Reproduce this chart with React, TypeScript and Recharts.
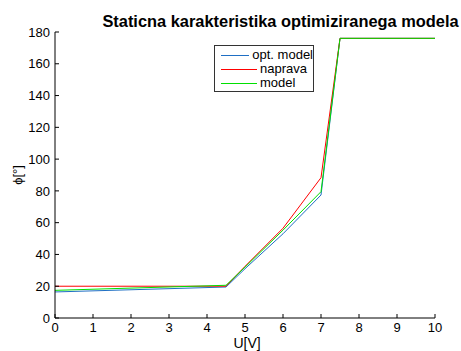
import React from 'react';
import { LineChart, Line, XAxis, YAxis, Legend } from 'recharts';

const uValues = [0, 4.5, 5, 6, 7, 7.5, 10];
const optModel = [16.4, 19.5, 31, 53, 77.4, 176, 176];
const naprava = [20, 20, 32.5, 56.5, 88.3, 176, 176];
const model = [17.4, 20.6, 32, 55.3, 79.5, 176, 176];
const seriesNames = ['opt. model', 'naprava', 'model'];
const xTicks = [0, 1, 2, 3, 4, 5, 6, 7, 8, 9, 10];
const yTicks = [0, 20, 40, 60, 80, 100, 120, 140, 160, 180];

const data = uValues.map((u, i) => ({ u, opt: optModel[i], naprava: naprava[i], model: model[i] }));

const FONT = '"Liberation Sans", Arial, Helvetica, sans-serif';
const tickStyle = { fontSize: 13, fill: '#000', fontFamily: FONT };

const LegendBox = (props: any) => {
  const payload = [...(props.payload || [])].sort(
    (a: any, b: any) => seriesNames.indexOf(a.value) - seriesNames.indexOf(b.value)
  );
  return (
    <div
      style={{
        width: 100,
        height: 47,
        boxSizing: 'border-box',
        border: '1px solid #333',
        background: '#fff',
        paddingTop: 2,
        fontFamily: FONT,
        fontSize: 13,
        color: '#000',
      }}
    >
      {payload.map((p: any) => (
        <div key={p.value} style={{ display: 'flex', alignItems: 'center', height: 14, whiteSpace: 'nowrap' }}>
          <div style={{ width: 36, height: 0, borderTop: `1px solid ${p.color}`, marginLeft: 6 }} />
          <span style={{ marginLeft: 3, lineHeight: '14px' }}>{p.value}</span>
        </div>
      ))}
    </div>
  );
};

export default function App() {
  return (
    <div style={{ position: 'absolute', left: 0, top: 0 }}>
      <LineChart width={461} height={351} data={data} margin={{ top: 32, right: 26, bottom: 0, left: 0 }}>
        <XAxis
          dataKey="u"
          type="number"
          domain={[0, 10]}
          ticks={xTicks}
          height={33}
          tickSize={-4}
          tickMargin={9}
          stroke="#000"
          tick={tickStyle}
          interval={0}
        />
        <XAxis
          xAxisId="top"
          orientation="top"
          dataKey="u"
          type="number"
          domain={[0, 10]}
          ticks={xTicks}
          height={0}
          tickSize={-4}
          tick={false}
          stroke="#000"
        />
        <YAxis
          type="number"
          domain={[0, 180]}
          ticks={yTicks}
          width={55}
          tickSize={-4}
          tickMargin={9}
          stroke="#000"
          tick={tickStyle}
          interval={0}
        />
        <YAxis
          yAxisId="right"
          orientation="right"
          type="number"
          domain={[0, 180]}
          ticks={yTicks}
          width={0}
          tickSize={-4}
          tick={false}
          stroke="#000"
        />
        <Legend
          layout="vertical"
          align="center"
          verticalAlign="middle"
          content={<LegendBox />}
          wrapperStyle={{ position: 'absolute', left: 214, top: 45, width: 100, height: 47 }}
        />
        <Line type="linear" dataKey="opt" name={seriesNames[0]} stroke="#1f6fc4" strokeWidth={1} dot={false} isAnimationActive={false} />
        <Line type="linear" dataKey="naprava" name={seriesNames[1]} stroke="#ff0000" strokeWidth={1} dot={false} isAnimationActive={false} />
        <Line type="linear" dataKey="model" name={seriesNames[2]} stroke="#00e000" strokeWidth={1} dot={false} isAnimationActive={false} />
        <text x={280.5} y={27} textAnchor="middle" fontFamily={FONT} fontWeight="bold" fontSize={16.4} fill="#000">
          Staticna karakteristika optimiziranega modela
        </text>
        <text x={247} y={348} textAnchor="middle" fontFamily={FONT} fontSize={14} fill="#000">
          U[V]
        </text>
        <text x={22} y={175} textAnchor="middle" fontFamily={FONT} fontSize={13} fill="#000" transform="rotate(-90 22 175)">
          ϕ[°]
        </text>
      </LineChart>
    </div>
  );
}
